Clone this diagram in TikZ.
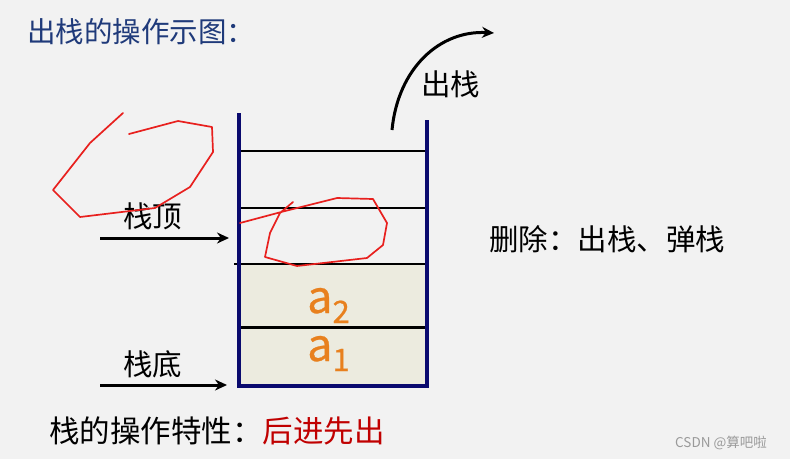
\documentclass[tikz,border=0pt]{standalone}
\usepackage{fontspec}
\setmainfont{Noto Sans CJK SC}
\newfontfamily\cjk{Noto Sans CJK SC}
\newfontfamily\cjkmed[FakeBold=0.6]{Noto Sans CJK SC}
\usetikzlibrary{arrows.meta}
\definecolor{bg}{HTML}{F2F2F2}
\definecolor{titleblue}{HTML}{1F3A7A}
\definecolor{navy}{HTML}{0A0A6E}
\definecolor{cellfill}{HTML}{ECEBDF}
\definecolor{aorange}{HTML}{E8801E}
\definecolor{ink}{HTML}{E8201E}
\definecolor{hotred}{HTML}{C00000}
\definecolor{wm}{HTML}{9A9A9A}
\tikzset{
  lbl/.style={inner sep=0pt, anchor=west, font=\cjk\fontsize{29.5}{31}\selectfont, text=black},
  wall/.style={draw=navy, line width=4pt, line join=miter},
  cellline/.style={draw=black, line width=1.6pt},
  ptr/.style={draw=black, line width=3pt, -{Stealth[length=12pt,width=11pt]}},
  scribble/.style={draw=ink, line width=1.7pt, line join=round, line cap=round},
  elem/.style={inner sep=0pt, anchor=base west, text=aorange, font=\cjkmed\fontsize{45}{47}\selectfont},
}
\begin{document}
\begin{tikzpicture}[x=1pt,y=-1pt]
\fill[bg] (0,0) rectangle (790,459);
\useasboundingbox (0,0) rectangle (790,459);

% title
\node[lbl, text=titleblue, font=\cjk\fontsize{28.5}{30}\selectfont] (title) at (27,32) {出栈的操作示图：};

% stack cells
\fill[cellfill] (239,264) rectangle (427,386);
\draw[cellline] (239,151) -- (429,151);
\draw[cellline] (239,208) -- (429,208);
\draw[cellline] (234,264) -- (427,264);
\draw[draw=black, line width=3pt] (239,327) -- (429,327);
\draw[wall] (239,113) -- (239,386) -- (427,386) -- (427,120);

% elements
\node[elem] (a2) at (307,313) {a\raisebox{-10pt}{\fontsize{31}{33}\selectfont 2}};
\node[elem] (a1) at (307,361) {a\raisebox{-10pt}{\fontsize{31}{33}\selectfont 1}};

% pointers
\node[lbl] (top) at (123,216) {栈顶};
\node[lbl] (bot) at (123,364) {栈底};
\coordinate (topS) at (100,238);
\coordinate (topE) at (229,238);
\coordinate (botS) at (100,385);
\coordinate (botE) at (227,385);
\draw[ptr] (topS) -- (topE);
\draw[ptr] (botS) -- (botE);

% pop arrow
\node[lbl] (pop) at (421,84) {出栈};
\coordinate (popS) at (392,130);
\coordinate (popE) at (494,33);
\draw[ptr] (popS) .. controls (398,68) and (440,30) .. (popE);

% right text
\node[lbl] (del) at (489,239) {删除：出栈、弹栈};

% bottom text
\node[lbl, font=\cjk\fontsize{30.5}{32}\selectfont] (prop) at (49,431) {栈的操作特性：\textcolor{hotred}{后进先出}};

% watermark
\node[inner sep=0pt, anchor=west, text=wm, font=\cjk\fontsize{13.5}{15}\selectfont] (wmark) at (675,443) {CSDN @算吧啦};

% red scribbles
\draw[scribble] (123,113) -- (90,143) -- (53,190) -- (80,217) -- (155,208) -- (190,187) -- (213,152) -- (212,127) -- (178,121) -- (129,134);
\draw[scribble] (240,223) -- (285,211) -- (337,198) -- (373,199) -- (387,223) -- (383,245) -- (367,258) -- (297,266) -- (265,257) -- (270,233) -- (280,213) -- (293,202);
\end{tikzpicture}
\end{document}
